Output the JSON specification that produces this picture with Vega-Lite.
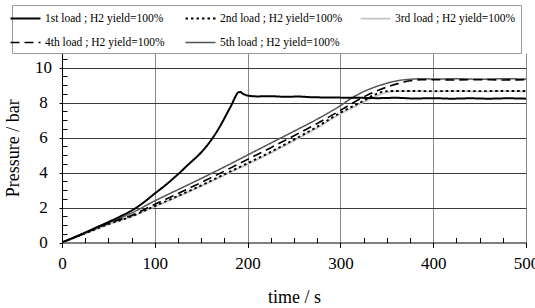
{
  "$schema": "https://vega.github.io/schema/vega-lite/v6.json",
  "autosize": {"type": "none"},
  "padding": {"left": 62, "top": 53, "right": 9, "bottom": 65.5},
  "width": 464,
  "height": 189.5,
  "background": "white",
  "config": {
    "view": {"stroke": null},
    "font": "Liberation Serif",
    "axis": {
      "labelFont": "Liberation Serif",
      "titleFont": "Liberation Serif",
      "labelColor": "black",
      "titleColor": "black",
      "titleFontWeight": "normal",
      "domainColor": "black",
      "domainWidth": 1,
      "tickColor": "black",
      "labelOverlap": false
    },
    "legend": {"labelFont": "Liberation Serif", "strokeColor": "#9a9a9a"}
  },
  "data": {
    "values": [
      {"s": "3rd load ; H2 yield=100%", "t": 0, "P": 0},
      {"s": "3rd load ; H2 yield=100%", "t": 25, "P": 0.5},
      {"s": "3rd load ; H2 yield=100%", "t": 50, "P": 1.03},
      {"s": "3rd load ; H2 yield=100%", "t": 75, "P": 1.48},
      {"s": "3rd load ; H2 yield=100%", "t": 100, "P": 2.05},
      {"s": "3rd load ; H2 yield=100%", "t": 125, "P": 2.62},
      {"s": "3rd load ; H2 yield=100%", "t": 150, "P": 3.22},
      {"s": "3rd load ; H2 yield=100%", "t": 175, "P": 3.85},
      {"s": "3rd load ; H2 yield=100%", "t": 200, "P": 4.48},
      {"s": "3rd load ; H2 yield=100%", "t": 225, "P": 5.12},
      {"s": "3rd load ; H2 yield=100%", "t": 250, "P": 5.82},
      {"s": "3rd load ; H2 yield=100%", "t": 275, "P": 6.55},
      {"s": "3rd load ; H2 yield=100%", "t": 300, "P": 7.35},
      {"s": "3rd load ; H2 yield=100%", "t": 325, "P": 8.02},
      {"s": "3rd load ; H2 yield=100%", "t": 340, "P": 8.4},
      {"s": "3rd load ; H2 yield=100%", "t": 352, "P": 8.6},
      {"s": "3rd load ; H2 yield=100%", "t": 362, "P": 8.65},
      {"s": "3rd load ; H2 yield=100%", "t": 375, "P": 8.65},
      {"s": "3rd load ; H2 yield=100%", "t": 400, "P": 8.64},
      {"s": "3rd load ; H2 yield=100%", "t": 425, "P": 8.65},
      {"s": "3rd load ; H2 yield=100%", "t": 450, "P": 8.64},
      {"s": "3rd load ; H2 yield=100%", "t": 475, "P": 8.65},
      {"s": "3rd load ; H2 yield=100%", "t": 500, "P": 8.64},

      {"s": "2nd load ; H2 yield=100%", "t": 0, "P": 0},
      {"s": "2nd load ; H2 yield=100%", "t": 25, "P": 0.52},
      {"s": "2nd load ; H2 yield=100%", "t": 50, "P": 1.05},
      {"s": "2nd load ; H2 yield=100%", "t": 75, "P": 1.5},
      {"s": "2nd load ; H2 yield=100%", "t": 100, "P": 2.08},
      {"s": "2nd load ; H2 yield=100%", "t": 125, "P": 2.66},
      {"s": "2nd load ; H2 yield=100%", "t": 150, "P": 3.26},
      {"s": "2nd load ; H2 yield=100%", "t": 175, "P": 3.9},
      {"s": "2nd load ; H2 yield=100%", "t": 200, "P": 4.53},
      {"s": "2nd load ; H2 yield=100%", "t": 225, "P": 5.18},
      {"s": "2nd load ; H2 yield=100%", "t": 250, "P": 5.88},
      {"s": "2nd load ; H2 yield=100%", "t": 275, "P": 6.62},
      {"s": "2nd load ; H2 yield=100%", "t": 300, "P": 7.42},
      {"s": "2nd load ; H2 yield=100%", "t": 325, "P": 8.1},
      {"s": "2nd load ; H2 yield=100%", "t": 337, "P": 8.45},
      {"s": "2nd load ; H2 yield=100%", "t": 347, "P": 8.63},
      {"s": "2nd load ; H2 yield=100%", "t": 355, "P": 8.66},
      {"s": "2nd load ; H2 yield=100%", "t": 375, "P": 8.66},
      {"s": "2nd load ; H2 yield=100%", "t": 400, "P": 8.65},
      {"s": "2nd load ; H2 yield=100%", "t": 425, "P": 8.66},
      {"s": "2nd load ; H2 yield=100%", "t": 450, "P": 8.65},
      {"s": "2nd load ; H2 yield=100%", "t": 475, "P": 8.66},
      {"s": "2nd load ; H2 yield=100%", "t": 500, "P": 8.66},

      {"s": "5th load ; H2 yield=100%", "t": 0, "P": 0},
      {"s": "5th load ; H2 yield=100%", "t": 25, "P": 0.55},
      {"s": "5th load ; H2 yield=100%", "t": 50, "P": 1.12},
      {"s": "5th load ; H2 yield=100%", "t": 75, "P": 1.68},
      {"s": "5th load ; H2 yield=100%", "t": 100, "P": 2.38},
      {"s": "5th load ; H2 yield=100%", "t": 125, "P": 3.02},
      {"s": "5th load ; H2 yield=100%", "t": 150, "P": 3.66},
      {"s": "5th load ; H2 yield=100%", "t": 175, "P": 4.32},
      {"s": "5th load ; H2 yield=100%", "t": 200, "P": 5.0},
      {"s": "5th load ; H2 yield=100%", "t": 225, "P": 5.68},
      {"s": "5th load ; H2 yield=100%", "t": 250, "P": 6.36},
      {"s": "5th load ; H2 yield=100%", "t": 275, "P": 7.05},
      {"s": "5th load ; H2 yield=100%", "t": 300, "P": 7.82},
      {"s": "5th load ; H2 yield=100%", "t": 312, "P": 8.25},
      {"s": "5th load ; H2 yield=100%", "t": 325, "P": 8.62},
      {"s": "5th load ; H2 yield=100%", "t": 337, "P": 8.88},
      {"s": "5th load ; H2 yield=100%", "t": 350, "P": 9.1},
      {"s": "5th load ; H2 yield=100%", "t": 362, "P": 9.25},
      {"s": "5th load ; H2 yield=100%", "t": 375, "P": 9.33},
      {"s": "5th load ; H2 yield=100%", "t": 390, "P": 9.36},
      {"s": "5th load ; H2 yield=100%", "t": 400, "P": 9.34},
      {"s": "5th load ; H2 yield=100%", "t": 425, "P": 9.36},
      {"s": "5th load ; H2 yield=100%", "t": 450, "P": 9.33},
      {"s": "5th load ; H2 yield=100%", "t": 475, "P": 9.36},
      {"s": "5th load ; H2 yield=100%", "t": 500, "P": 9.34},

      {"s": "4th load ; H2 yield=100%", "t": 0, "P": 0},
      {"s": "4th load ; H2 yield=100%", "t": 25, "P": 0.55},
      {"s": "4th load ; H2 yield=100%", "t": 50, "P": 1.1},
      {"s": "4th load ; H2 yield=100%", "t": 75, "P": 1.55},
      {"s": "4th load ; H2 yield=100%", "t": 100, "P": 2.18},
      {"s": "4th load ; H2 yield=100%", "t": 125, "P": 2.8},
      {"s": "4th load ; H2 yield=100%", "t": 150, "P": 3.43},
      {"s": "4th load ; H2 yield=100%", "t": 175, "P": 4.08},
      {"s": "4th load ; H2 yield=100%", "t": 200, "P": 4.75},
      {"s": "4th load ; H2 yield=100%", "t": 225, "P": 5.42},
      {"s": "4th load ; H2 yield=100%", "t": 250, "P": 6.1},
      {"s": "4th load ; H2 yield=100%", "t": 275, "P": 6.8},
      {"s": "4th load ; H2 yield=100%", "t": 300, "P": 7.55},
      {"s": "4th load ; H2 yield=100%", "t": 325, "P": 8.32},
      {"s": "4th load ; H2 yield=100%", "t": 337, "P": 8.62},
      {"s": "4th load ; H2 yield=100%", "t": 350, "P": 8.88},
      {"s": "4th load ; H2 yield=100%", "t": 362, "P": 9.08},
      {"s": "4th load ; H2 yield=100%", "t": 375, "P": 9.24},
      {"s": "4th load ; H2 yield=100%", "t": 387, "P": 9.3},
      {"s": "4th load ; H2 yield=100%", "t": 400, "P": 9.3},
      {"s": "4th load ; H2 yield=100%", "t": 425, "P": 9.29},
      {"s": "4th load ; H2 yield=100%", "t": 450, "P": 9.31},
      {"s": "4th load ; H2 yield=100%", "t": 475, "P": 9.29},
      {"s": "4th load ; H2 yield=100%", "t": 500, "P": 9.3},

      {"s": "1st load ; H2 yield=100%", "t": 0, "P": 0},
      {"s": "1st load ; H2 yield=100%", "t": 12, "P": 0.27},
      {"s": "1st load ; H2 yield=100%", "t": 25, "P": 0.57},
      {"s": "1st load ; H2 yield=100%", "t": 37, "P": 0.86},
      {"s": "1st load ; H2 yield=100%", "t": 50, "P": 1.17},
      {"s": "1st load ; H2 yield=100%", "t": 62, "P": 1.47},
      {"s": "1st load ; H2 yield=100%", "t": 75, "P": 1.82},
      {"s": "1st load ; H2 yield=100%", "t": 87, "P": 2.25},
      {"s": "1st load ; H2 yield=100%", "t": 100, "P": 2.8},
      {"s": "1st load ; H2 yield=100%", "t": 112, "P": 3.3},
      {"s": "1st load ; H2 yield=100%", "t": 125, "P": 3.9},
      {"s": "1st load ; H2 yield=100%", "t": 137, "P": 4.5},
      {"s": "1st load ; H2 yield=100%", "t": 150, "P": 5.15},
      {"s": "1st load ; H2 yield=100%", "t": 160, "P": 5.8},
      {"s": "1st load ; H2 yield=100%", "t": 167, "P": 6.35},
      {"s": "1st load ; H2 yield=100%", "t": 173, "P": 6.9},
      {"s": "1st load ; H2 yield=100%", "t": 178, "P": 7.4},
      {"s": "1st load ; H2 yield=100%", "t": 183, "P": 7.9},
      {"s": "1st load ; H2 yield=100%", "t": 187, "P": 8.35},
      {"s": "1st load ; H2 yield=100%", "t": 190, "P": 8.58},
      {"s": "1st load ; H2 yield=100%", "t": 192, "P": 8.6},
      {"s": "1st load ; H2 yield=100%", "t": 195, "P": 8.5},
      {"s": "1st load ; H2 yield=100%", "t": 200, "P": 8.4},
      {"s": "1st load ; H2 yield=100%", "t": 210, "P": 8.35},
      {"s": "1st load ; H2 yield=100%", "t": 225, "P": 8.36},
      {"s": "1st load ; H2 yield=100%", "t": 240, "P": 8.33},
      {"s": "1st load ; H2 yield=100%", "t": 255, "P": 8.34},
      {"s": "1st load ; H2 yield=100%", "t": 270, "P": 8.3},
      {"s": "1st load ; H2 yield=100%", "t": 285, "P": 8.29},
      {"s": "1st load ; H2 yield=100%", "t": 300, "P": 8.28},
      {"s": "1st load ; H2 yield=100%", "t": 320, "P": 8.27},
      {"s": "1st load ; H2 yield=100%", "t": 340, "P": 8.25},
      {"s": "1st load ; H2 yield=100%", "t": 360, "P": 8.27},
      {"s": "1st load ; H2 yield=100%", "t": 380, "P": 8.23},
      {"s": "1st load ; H2 yield=100%", "t": 400, "P": 8.25},
      {"s": "1st load ; H2 yield=100%", "t": 420, "P": 8.22},
      {"s": "1st load ; H2 yield=100%", "t": 440, "P": 8.24},
      {"s": "1st load ; H2 yield=100%", "t": 460, "P": 8.22},
      {"s": "1st load ; H2 yield=100%", "t": 480, "P": 8.24},
      {"s": "1st load ; H2 yield=100%", "t": 500, "P": 8.22}
    ]
  },
  "mark": {"type": "line", "interpolate": "monotone", "clip": true},
  "encoding": {
    "x": {
      "field": "t",
      "type": "quantitative",
      "scale": {"domain": [0, 500], "nice": false},
      "axis": {
        "title": "time / s",
        "titleFont": "Liberation Serif",
        "titleFontSize": 18,
        "titlePadding": 17,
        "labelFont": "Liberation Serif",
        "labelFontSize": 17,
        "labelPadding": 8,
        "labelFlush": false,
        "values": [0, 25, 50, 75, 100, 125, 150, 175, 200, 225, 250, 275, 300, 325, 350, 375, 400, 425, 450, 475, 500],
        "labelExpr": "datum.value % 100 === 0 ? format(datum.value, 'd') : ''",
        "tickSize": {"condition": {"test": "datum.value % 100 === 0", "value": 5}, "value": -5},
        "grid": true,
        "gridColor": "#8a8a8a",
        "gridWidth": 1,
        "gridOpacity": {"condition": {"test": "datum.value % 100 === 0 && datum.value > 0", "value": 1}, "value": 0}
      }
    },
    "y": {
      "field": "P",
      "type": "quantitative",
      "scale": {"domain": [0, 10.83], "nice": false},
      "axis": {
        "title": "Pressure / bar",
        "titleFont": "Liberation Serif",
        "titleFontSize": 18,
        "titlePadding": 12,
        "labelFont": "Liberation Serif",
        "labelFontSize": 17,
        "labelAlign": "center",
        "labelPadding": 16,
        "values": [0, 0.5, 1, 1.5, 2, 2.5, 3, 3.5, 4, 4.5, 5, 5.5, 6, 6.5, 7, 7.5, 8, 8.5, 9, 9.5, 10, 10.5],
        "labelExpr": "datum.value % 2 === 0 ? format(datum.value, 'd') : ''",
        "tickSize": {"condition": {"test": "datum.value % 2 === 0", "value": 3}, "value": -5},
        "grid": true,
        "gridColor": "#3a3a3a",
        "gridWidth": 1,
        "gridOpacity": {"condition": {"test": "datum.value % 2 === 0 && datum.value > 0", "value": 1}, "value": 0}
      }
    },
    "stroke": {
      "field": "s",
      "type": "nominal",
      "scale": {
        "domain": ["1st load ; H2 yield=100%", "2nd load ; H2 yield=100%", "3rd load ; H2 yield=100%", "4th load ; H2 yield=100%", "5th load ; H2 yield=100%"],
        "range": ["#000000", "#000000", "#c4c4c4", "#000000", "#555555"]
      },
      "legend": {
        "orient": "none",
        "legendX": -50,
        "legendY": -48,
        "columns": 3,
        "direction": "horizontal",
        "gridAlign": "all",
        "title": null,
        "symbolType": "M-2,0H2",
        "symbolSize": 225,
        "labelFont": "Liberation Serif",
        "labelFontSize": 11.5,
        "labelColor": "black",
        "labelOffset": 11,
        "labelLimit": 300,
        "columnPadding": 13,
        "rowPadding": 10,
        "padding": 5,
        "strokeColor": "#9a9a9a",
        "encoding": {"legend": {"update": {"stroke": {"value": "#9a9a9a"}, "strokeWidth": {"value": 1}, "strokeDash": {"value": [3, 3]}}}}
      }
    },
    "strokeDash": {
      "field": "s",
      "type": "nominal",
      "scale": {
        "domain": ["1st load ; H2 yield=100%", "2nd load ; H2 yield=100%", "3rd load ; H2 yield=100%", "4th load ; H2 yield=100%", "5th load ; H2 yield=100%"],
        "range": [[1, 0], [2.5, 3], [1, 0], [9, 5], [1, 0]]
      }
    },
    "strokeWidth": {
      "field": "s",
      "type": "nominal",
      "scale": {
        "domain": ["1st load ; H2 yield=100%", "2nd load ; H2 yield=100%", "3rd load ; H2 yield=100%", "4th load ; H2 yield=100%", "5th load ; H2 yield=100%"],
        "range": [2, 1.5, 2.5, 1.3, 2.6]
      }
    },
    "order": {"field": "t", "type": "quantitative"}
  }
}
